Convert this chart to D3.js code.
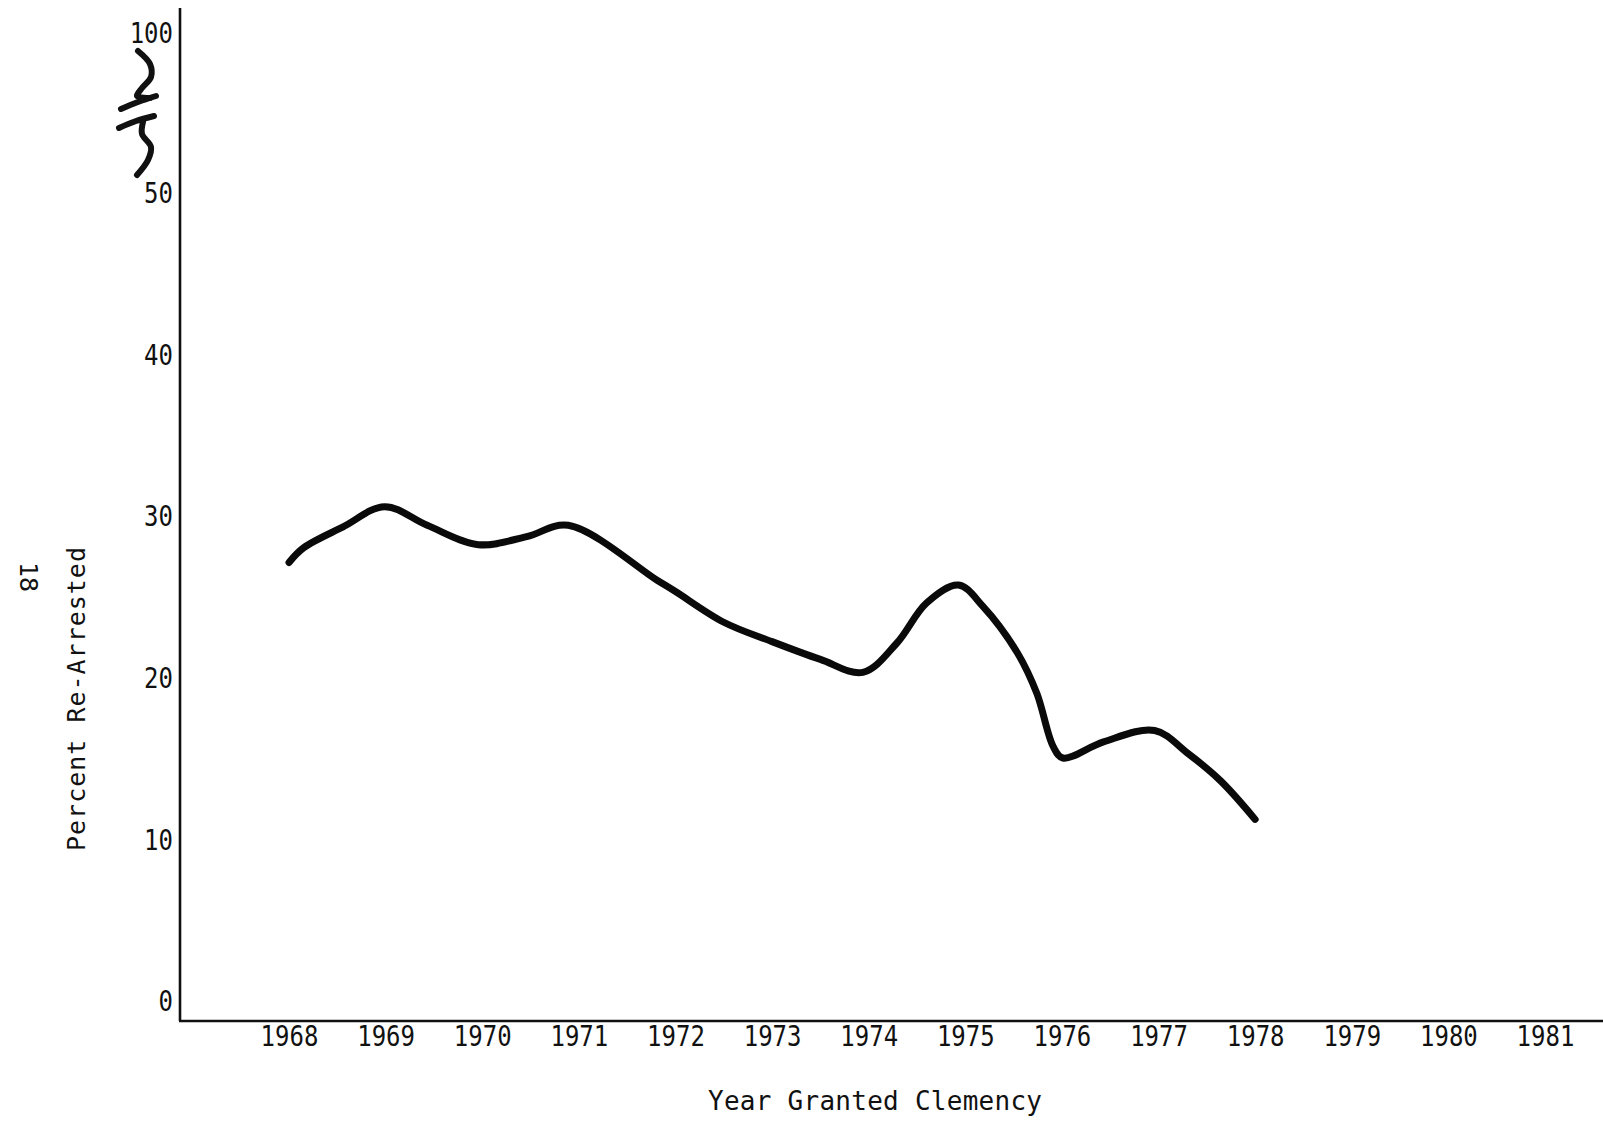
<!DOCTYPE html>
<html>
<head>
<meta charset="utf-8">
<script src="https://cdn.jsdelivr.net/npm/d3@7"></script>
<style>
  html, body { margin: 0; padding: 0; background: #fff; }
  svg { display: block; }
  text { font-family: "DejaVu Sans Mono", monospace; fill: #111; }
</style>
</head>
<body>
<svg id="chart" width="1603" height="1124"></svg>
<script>
// ---- data ----
const yearTicks = [1968, 1969, 1970, 1971, 1972, 1973, 1974, 1975, 1976, 1977, 1978, 1979, 1980, 1981];
const yTickValues = [0, 10, 20, 30, 40, 50, 100];
const curveYears = [1968.00, 1968.15, 1968.56, 1968.99, 1969.43, 1969.96, 1970.46, 1970.89, 1971.81, 1972.00,
                    1972.50, 1973.00, 1973.50, 1973.94, 1974.29, 1974.60, 1974.93, 1975.18, 1975.54, 1975.74,
                    1975.91, 1976.01, 1976.43, 1976.96, 1977.30, 1977.64, 1978.00];
const curvePercent = [27.2, 28.1, 29.4, 30.65, 29.5, 28.3, 28.8, 29.5, 26.1, 25.4,
                      23.5, 22.3, 21.2, 20.4, 22.2, 24.7, 25.8, 24.5, 21.6, 19.1,
                      15.8, 15.1, 16.1, 16.8, 15.4, 13.7, 11.3];
const xTitle = "Year Granted Clemency";
const yTitle = "Percent Re-Arrested";
const pageNumber = "18";

// ---- layout ----
const svg = d3.select("#chart");
const axisX = 180, axisBottomY = 1021, axisTopY = 8;

const x = d3.scaleLinear().domain([1968, 1981]).range([289, 1545]);
// broken axis: 50 -> 100 squeezed into one interval
const y = d3.scaleLinear().domain([0, 50, 100]).range([1002, 194, 34]);

// axis lines
svg.append("line")
  .attr("x1", axisX).attr("x2", axisX)
  .attr("y1", axisTopY).attr("y2", axisBottomY)
  .attr("stroke", "#111").attr("stroke-width", 2.6);
svg.append("line")
  .attr("x1", axisX - 1).attr("x2", 1603)
  .attr("y1", axisBottomY).attr("y2", axisBottomY)
  .attr("stroke", "#111").attr("stroke-width", 2.4);

const sy = 1.2;
// y axis ticks
const gy = svg.append("g").attr("transform", `translate(${axisX},0)`)
  .call(d3.axisLeft(y).tickValues(yTickValues).tickSize(0).tickPadding(7).tickFormat(d3.format("d")));
gy.select(".domain").remove();
gy.selectAll("text")
  .attr("font-size", 24)
  .attr("font-family", "DejaVu Sans Mono")
  .attr("fill", "#111")
  .attr("dy", null)
  .attr("y", 8.6 / sy)
  .attr("transform", `scale(1,${sy})`);

// x axis ticks
const gx = svg.append("g").attr("transform", `translate(0,${axisBottomY})`)
  .call(d3.axisBottom(x).tickValues(yearTicks).tickSize(0).tickFormat(d3.format("d")));
gx.select(".domain").remove();
gx.selectAll("text")
  .attr("font-size", 24)
  .attr("font-family", "DejaVu Sans Mono")
  .attr("fill", "#111")
  .attr("dy", null)
  .attr("y", 25 / sy)
  .attr("transform", `scale(1,${sy})`);

// axis break symbol (hand-drawn squiggle)
const brk = svg.append("g").attr("fill", "none").attr("stroke", "#111")
  .attr("stroke-width", 6).attr("stroke-linecap", "round").attr("stroke-linejoin", "round");
const lineGen = d3.line().curve(d3.curveCatmullRom.alpha(0.5));
brk.append("path").attr("d", lineGen([[138, 51], [150, 64], [151, 77], [142, 88], [137, 96], [150, 98]]));
brk.append("path").attr("d", lineGen([[121, 109], [138, 102], [156, 96]]));
brk.append("path").attr("d", lineGen([[119, 128], [136, 121], [154, 116]]));
brk.append("path").attr("d", lineGen([[143, 122], [142, 134], [151, 147], [148, 160], [137, 175]]));

// data line
const pts = curveYears.map((yr, i) => [yr, curvePercent[i]]);
svg.append("path")
  .datum(pts)
  .attr("fill", "none")
  .attr("stroke", "#0a0a0a")
  .attr("stroke-width", 7)
  .attr("stroke-linecap", "round")
  .attr("stroke-linejoin", "round")
  .attr("d", d3.line().x(d => x(d[0])).y(d => y(d[1])).curve(d3.curveCatmullRom.alpha(0.5)));

// titles
svg.append("text")
  .attr("x", 708).attr("y", 1110)
  .attr("font-size", 26)
  .attr("textLength", 334).attr("lengthAdjust", "spacing")
  .text(xTitle);

svg.append("text")
  .attr("transform", "translate(85,851) rotate(-90)")
  .attr("font-size", 25)
  .attr("textLength", 304).attr("lengthAdjust", "spacing")
  .text(yTitle);

svg.append("text")
  .attr("transform", "translate(20,562) rotate(90)")
  .attr("font-size", 25)
  .text(pageNumber);
</script>
</body>
</html>
